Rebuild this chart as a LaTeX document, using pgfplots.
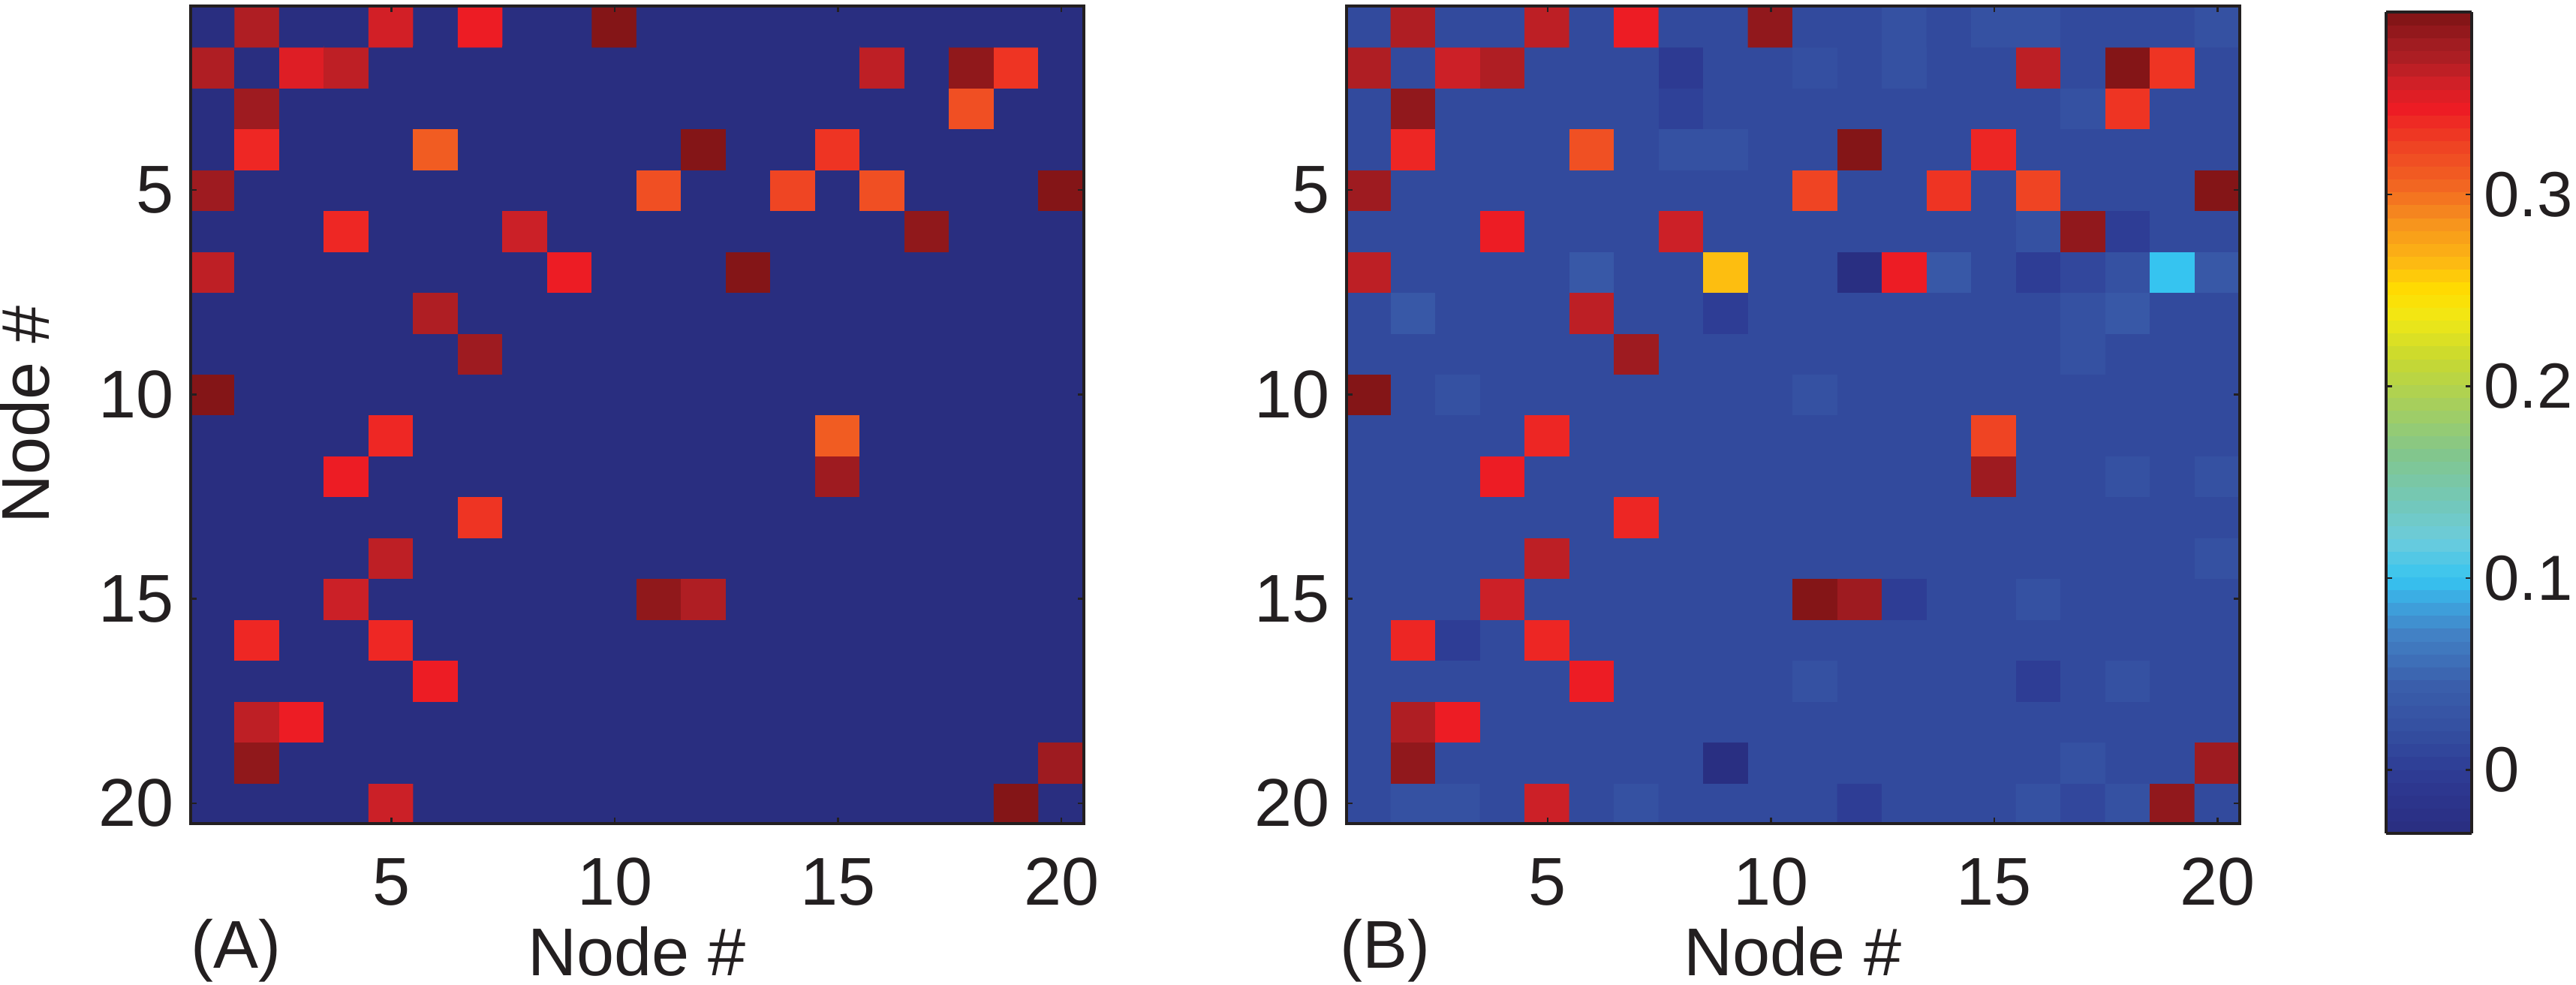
\documentclass[border=0pt]{standalone}
\usepackage{fontspec}
\setmainfont{Liberation Sans}
\usepackage{pgfplots}
\pgfplotsset{compat=1.18}
\definecolor{axc}{RGB}{35,31,32}
\newcommand\fnt{\fontsize{18}{21.6}\selectfont}
\newcommand\cfnt{\fontsize{17}{20.4}\selectfont}
\pgfplotsset{
  colormap={refjet}{rgb255(0pt)=(41,46,128) rgb255(18pt)=(44,52,140) rgb255(33pt)=(46,61,149) rgb255(53pt)=(52,78,160) rgb255(78pt)=(58,95,172) rgb255(103pt)=(66,128,196) rgb255(118pt)=(62,160,220) rgb255(133pt)=(54,196,240) rgb255(153pt)=(108,204,220) rgb255(173pt)=(115,200,185) rgb255(198pt)=(130,198,140) rgb255(223pt)=(166,207,94) rgb255(248pt)=(200,217,48) rgb255(268pt)=(240,232,22) rgb255(283pt)=(255,221,0) rgb255(298pt)=(253,185,19) rgb255(318pt)=(247,148,29) rgb255(338pt)=(242,101,34) rgb255(358pt)=(239,68,35) rgb255(378pt)=(237,28,36) rgb255(393pt)=(204,32,39) rgb255(403pt)=(175,30,35) rgb255(413pt)=(158,27,32) rgb255(428pt)=(125,19,21)},
  /pgf/number format/assume math mode=true,
  tick label style={font=\fnt, text=axc},
  mat/.style={
    scale only axis, width=238pt, height=217.8pt, anchor=south west,
    xmin=0.5, xmax=20.5, ymin=0.5, ymax=20.5, enlargelimits=false,
    clip=false,
    xtick={5,10,15,20}, ytick={1,6,11,16}, yticklabels={20,15,10,5},
    tick align=inside, major tick length=1.6pt,
    xtick pos=both, ytick pos=both, xticklabel pos=lower, yticklabel pos=left,
    every tick/.style={axc, line width=0.5pt},
    axis line style={axc, line width=0.9pt},
    xticklabel style={anchor=base, yshift=-21.8pt},
    yticklabel style={inner sep=0pt, xshift=-4.3pt},
    xlabel={Node \#},
    every axis x label/.style={at={(axis description cs:0.5,-0.186)}, anchor=base, font=\fnt, text=axc},
    colormap name=refjet,
    axis on top,
  }
}
\begin{document}
\begin{tikzpicture}
\useasboundingbox (0,0) rectangle (686.4pt,262.4pt);
\begin{axis}[mat, at={(50.8pt,43pt)}, point meta min=0, point meta max=0.395,
  ylabel={Node \#},
  every axis y label/.style={at={(axis description cs:-0.1588,0.5)}, rotate=90, anchor=base, font=\fnt, text=axc}]
\addplot[matrix plot*, mesh/cols=20, point meta=explicit] coordinates {
(1,1)[0](2,1)[0](3,1)[0](4,1)[0](5,1)[0.363](6,1)[0](7,1)[0](8,1)[0](9,1)[0](10,1)[0](11,1)[0](12,1)[0](13,1)[0](14,1)[0](15,1)[0](16,1)[0](17,1)[0](18,1)[0](19,1)[0.392](20,1)[0]
(1,2)[0](2,2)[0.387](3,2)[0](4,2)[0](5,2)[0](6,2)[0](7,2)[0](8,2)[0](9,2)[0](10,2)[0](11,2)[0](12,2)[0](13,2)[0](14,2)[0](15,2)[0](16,2)[0](17,2)[0](18,2)[0](19,2)[0](20,2)[0.381]
(1,3)[0](2,3)[0.367](3,3)[0.349](4,3)[0](5,3)[0](6,3)[0](7,3)[0](8,3)[0](9,3)[0](10,3)[0](11,3)[0](12,3)[0](13,3)[0](14,3)[0](15,3)[0](16,3)[0](17,3)[0](18,3)[0](19,3)[0](20,3)[0]
(1,4)[0](2,4)[0](3,4)[0](4,4)[0](5,4)[0](6,4)[0.349](7,4)[0](8,4)[0](9,4)[0](10,4)[0](11,4)[0](12,4)[0](13,4)[0](14,4)[0](15,4)[0](16,4)[0](17,4)[0](18,4)[0](19,4)[0](20,4)[0]
(1,5)[0](2,5)[0.344](3,5)[0](4,5)[0](5,5)[0.344](6,5)[0](7,5)[0](8,5)[0](9,5)[0](10,5)[0](11,5)[0](12,5)[0](13,5)[0](14,5)[0](15,5)[0](16,5)[0](17,5)[0](18,5)[0](19,5)[0](20,5)[0]
(1,6)[0](2,6)[0](3,6)[0](4,6)[0.363](5,6)[0](6,6)[0](7,6)[0](8,6)[0](9,6)[0](10,6)[0](11,6)[0.387](12,6)[0.372](13,6)[0](14,6)[0](15,6)[0](16,6)[0](17,6)[0](18,6)[0](19,6)[0](20,6)[0]
(1,7)[0](2,7)[0](3,7)[0](4,7)[0](5,7)[0.367](6,7)[0](7,7)[0](8,7)[0](9,7)[0](10,7)[0](11,7)[0](12,7)[0](13,7)[0](14,7)[0](15,7)[0](16,7)[0](17,7)[0](18,7)[0](19,7)[0](20,7)[0]
(1,8)[0](2,8)[0](3,8)[0](4,8)[0](5,8)[0](6,8)[0](7,8)[0.338](8,8)[0](9,8)[0](10,8)[0](11,8)[0](12,8)[0](13,8)[0](14,8)[0](15,8)[0](16,8)[0](17,8)[0](18,8)[0](19,8)[0](20,8)[0]
(1,9)[0](2,9)[0](3,9)[0](4,9)[0.349](5,9)[0](6,9)[0](7,9)[0](8,9)[0](9,9)[0](10,9)[0](11,9)[0](12,9)[0](13,9)[0](14,9)[0](15,9)[0.381](16,9)[0](17,9)[0](18,9)[0](19,9)[0](20,9)[0]
(1,10)[0](2,10)[0](3,10)[0](4,10)[0](5,10)[0.344](6,10)[0](7,10)[0](8,10)[0](9,10)[0](10,10)[0](11,10)[0](12,10)[0](13,10)[0](14,10)[0](15,10)[0.317](16,10)[0](17,10)[0](18,10)[0](19,10)[0](20,10)[0]
(1,11)[0.392](2,11)[0](3,11)[0](4,11)[0](5,11)[0](6,11)[0](7,11)[0](8,11)[0](9,11)[0](10,11)[0](11,11)[0](12,11)[0](13,11)[0](14,11)[0](15,11)[0](16,11)[0](17,11)[0](18,11)[0](19,11)[0](20,11)[0]
(1,12)[0](2,12)[0](3,12)[0](4,12)[0](5,12)[0](6,12)[0](7,12)[0.381](8,12)[0](9,12)[0](10,12)[0](11,12)[0](12,12)[0](13,12)[0](14,12)[0](15,12)[0](16,12)[0](17,12)[0](18,12)[0](19,12)[0](20,12)[0]
(1,13)[0](2,13)[0](3,13)[0](4,13)[0](5,13)[0](6,13)[0.372](7,13)[0](8,13)[0](9,13)[0](10,13)[0](11,13)[0](12,13)[0](13,13)[0](14,13)[0](15,13)[0](16,13)[0](17,13)[0](18,13)[0](19,13)[0](20,13)[0]
(1,14)[0.367](2,14)[0](3,14)[0](4,14)[0](5,14)[0](6,14)[0](7,14)[0](8,14)[0](9,14)[0.349](10,14)[0](11,14)[0](12,14)[0](13,14)[0.392](14,14)[0](15,14)[0](16,14)[0](17,14)[0](18,14)[0](19,14)[0](20,14)[0]
(1,15)[0](2,15)[0](3,15)[0](4,15)[0.344](5,15)[0](6,15)[0](7,15)[0](8,15)[0.363](9,15)[0](10,15)[0](11,15)[0](12,15)[0](13,15)[0](14,15)[0](15,15)[0](16,15)[0](17,15)[0.387](18,15)[0](19,15)[0](20,15)[0]
(1,16)[0.381](2,16)[0](3,16)[0](4,16)[0](5,16)[0](6,16)[0](7,16)[0](8,16)[0](9,16)[0](10,16)[0](11,16)[0.324](12,16)[0](13,16)[0](14,16)[0.330](15,16)[0](16,16)[0.324](17,16)[0](18,16)[0](19,16)[0](20,16)[0.392]
(1,17)[0](2,17)[0.344](3,17)[0](4,17)[0](5,17)[0](6,17)[0.317](7,17)[0](8,17)[0](9,17)[0](10,17)[0](11,17)[0](12,17)[0.392](13,17)[0](14,17)[0](15,17)[0.338](16,17)[0](17,17)[0](18,17)[0](19,17)[0](20,17)[0]
(1,18)[0](2,18)[0.381](3,18)[0](4,18)[0](5,18)[0](6,18)[0](7,18)[0](8,18)[0](9,18)[0](10,18)[0](11,18)[0](12,18)[0](13,18)[0](14,18)[0](15,18)[0](16,18)[0](17,18)[0](18,18)[0.324](19,18)[0](20,18)[0]
(1,19)[0.372](2,19)[0](3,19)[0.355](4,19)[0.367](5,19)[0](6,19)[0](7,19)[0](8,19)[0](9,19)[0](10,19)[0](11,19)[0](12,19)[0](13,19)[0](14,19)[0](15,19)[0](16,19)[0.367](17,19)[0](18,19)[0.387](19,19)[0.338](20,19)[0]
(1,20)[0](2,20)[0.372](3,20)[0](4,20)[0](5,20)[0.360](6,20)[0](7,20)[0.349](8,20)[0](9,20)[0](10,20)[0.392](11,20)[0](12,20)[0](13,20)[0](14,20)[0](15,20)[0](16,20)[0](17,20)[0](18,20)[0](19,20)[0](20,20)[0]
};
\node[anchor=base west, inner sep=0pt, font=\fnt, text=axc] at (axis description cs:0,-0.1772) {(A)};
\end{axis}
\begin{axis}[mat, at={(358.8pt,43pt)}, point meta min=-0.033, point meta max=0.395,
  colorbar sampled,
  colorbar style={
    at={(parent axis.south east)}, anchor=south west, xshift=30.5pt, yshift=-2.6pt,
    scale only axis, width=22.8pt, height=218.8pt, samples=65,
    ytick={0,0.1,0.2,0.3}, scaled y ticks=false,
    yticklabel style={inner sep=0pt, xshift=3pt, font=\cfnt, /pgf/number format/fixed},
    ytick pos=both, yticklabel pos=right, xtick=\empty,
    tick align=inside, major tick length=1.6pt,
    every tick/.style={axc, line width=0.5pt},
    axis line style={axc, line width=0.8pt},
  }]
\addplot[matrix plot*, mesh/cols=20, point meta=explicit] coordinates {
(1,1)[0.015](2,1)[0.025](3,1)[0.025](4,1)[0.015](5,1)[0.36](6,1)[0.015](7,1)[0.025](8,1)[0.015](9,1)[0.015](10,1)[0.015](11,1)[0.015](12,1)[0](13,1)[0.015](14,1)[0.015](15,1)[0.015](16,1)[0.025](17,1)[0.012](18,1)[0.025](19,1)[0.386](20,1)[0.015]
(1,2)[0.015](2,2)[0.386](3,2)[0.015](4,2)[0.015](5,2)[0.015](6,2)[0.015](7,2)[0.015](8,2)[0.015](9,2)[-0.03](10,2)[0.015](11,2)[0.015](12,2)[0.015](13,2)[0.015](14,2)[0.015](15,2)[0.015](16,2)[0.015](17,2)[0.025](18,2)[0.015](19,2)[0.015](20,2)[0.38]
(1,3)[0.015](2,3)[0.37](3,3)[0.345](4,3)[0.015](5,3)[0.015](6,3)[0.015](7,3)[0.015](8,3)[0.015](9,3)[0.015](10,3)[0.015](11,3)[0.015](12,3)[0.015](13,3)[0.015](14,3)[0.015](15,3)[0.015](16,3)[0.015](17,3)[0.015](18,3)[0.015](19,3)[0.015](20,3)[0.015]
(1,4)[0.015](2,4)[0.015](3,4)[0.015](4,4)[0.015](5,4)[0.015](6,4)[0.345](7,4)[0.015](8,4)[0.015](9,4)[0.015](10,4)[0.015](11,4)[0.025](12,4)[0.015](13,4)[0.015](14,4)[0.015](15,4)[0.015](16,4)[0](17,4)[0.015](18,4)[0.025](19,4)[0.015](20,4)[0.015]
(1,5)[0.015](2,5)[0.34](3,5)[0](4,5)[0.015](5,5)[0.34](6,5)[0.015](7,5)[0.015](8,5)[0.015](9,5)[0.015](10,5)[0.015](11,5)[0.015](12,5)[0.015](13,5)[0.015](14,5)[0.015](15,5)[0.015](16,5)[0.015](17,5)[0.015](18,5)[0.015](19,5)[0.015](20,5)[0.015]
(1,6)[0.015](2,6)[0.015](3,6)[0.015](4,6)[0.36](5,6)[0.015](6,6)[0.015](7,6)[0.015](8,6)[0.015](9,6)[0.015](10,6)[0.015](11,6)[0.392](12,6)[0.38](13,6)[0](14,6)[0.015](15,6)[0.015](16,6)[0.025](17,6)[0.015](18,6)[0.015](19,6)[0.015](20,6)[0.015]
(1,7)[0.015](2,7)[0.015](3,7)[0.015](4,7)[0.015](5,7)[0.365](6,7)[0.015](7,7)[0.015](8,7)[0.015](9,7)[0.015](10,7)[0.015](11,7)[0.015](12,7)[0.015](13,7)[0.015](14,7)[0.015](15,7)[0.015](16,7)[0.015](17,7)[0.015](18,7)[0.015](19,7)[0.015](20,7)[0.025]
(1,8)[0.015](2,8)[0.015](3,8)[0.015](4,8)[0.015](5,8)[0.015](6,8)[0.015](7,8)[0.34](8,8)[0.015](9,8)[0.015](10,8)[0.015](11,8)[0.015](12,8)[0.015](13,8)[0.015](14,8)[0.015](15,8)[0.015](16,8)[0.015](17,8)[0.015](18,8)[0.015](19,8)[0.015](20,8)[0.015]
(1,9)[0.015](2,9)[0.015](3,9)[0.015](4,9)[0.345](5,9)[0.015](6,9)[0.015](7,9)[0.015](8,9)[0.015](9,9)[0.015](10,9)[0.015](11,9)[0.015](12,9)[0.015](13,9)[0.015](14,9)[0.015](15,9)[0.38](16,9)[0.015](17,9)[0.015](18,9)[0.025](19,9)[0.015](20,9)[0.025]
(1,10)[0.015](2,10)[0.015](3,10)[0.015](4,10)[0.015](5,10)[0.34](6,10)[0.015](7,10)[0.015](8,10)[0.015](9,10)[0.015](10,10)[0.015](11,10)[0.015](12,10)[0.015](13,10)[0.015](14,10)[0.015](15,10)[0.325](16,10)[0.015](17,10)[0.015](18,10)[0.015](19,10)[0.015](20,10)[0.015]
(1,11)[0.392](2,11)[0.015](3,11)[0.025](4,11)[0.015](5,11)[0.015](6,11)[0.015](7,11)[0.015](8,11)[0.015](9,11)[0.015](10,11)[0.015](11,11)[0.025](12,11)[0.015](13,11)[0.015](14,11)[0.015](15,11)[0.015](16,11)[0.015](17,11)[0.015](18,11)[0.015](19,11)[0.015](20,11)[0.015]
(1,12)[0.015](2,12)[0.015](3,12)[0.015](4,12)[0.015](5,12)[0.015](6,12)[0.015](7,12)[0.38](8,12)[0.015](9,12)[0.015](10,12)[0.015](11,12)[0.015](12,12)[0.015](13,12)[0.015](14,12)[0.015](15,12)[0.015](16,12)[0.015](17,12)[0.025](18,12)[0.015](19,12)[0.015](20,12)[0.015]
(1,13)[0.015](2,13)[0.035](3,13)[0.015](4,13)[0.015](5,13)[0.015](6,13)[0.365](7,13)[0.015](8,13)[0.015](9,13)[0](10,13)[0.015](11,13)[0.015](12,13)[0.015](13,13)[0.015](14,13)[0.015](15,13)[0.015](16,13)[0.015](17,13)[0.025](18,13)[0.035](19,13)[0.015](20,13)[0.015]
(1,14)[0.365](2,14)[0.015](3,14)[0.015](4,14)[0.015](5,14)[0.015](6,14)[0.035](7,14)[0.015](8,14)[0.015](9,14)[0.263](10,14)[0.015](11,14)[0.015](12,14)[-0.03](13,14)[0.345](14,14)[0.035](15,14)[0.015](16,14)[0](17,14)[0.012](18,14)[0.025](19,14)[0.1](20,14)[0.035]
(1,15)[0.015](2,15)[0.015](3,15)[0.015](4,15)[0.345](5,15)[0.015](6,15)[0.015](7,15)[0.015](8,15)[0.36](9,15)[0.015](10,15)[0.015](11,15)[0.015](12,15)[0.015](13,15)[0.015](14,15)[0.015](15,15)[0.015](16,15)[0.025](17,15)[0.386](18,15)[0](19,15)[0.015](20,15)[0.015]
(1,16)[0.38](2,16)[0.015](3,16)[0.015](4,16)[0.015](5,16)[0.015](6,16)[0.015](7,16)[0.015](8,16)[0.015](9,16)[0.015](10,16)[0.015](11,16)[0.325](12,16)[0.015](13,16)[0.015](14,16)[0.333](15,16)[0.015](16,16)[0.325](17,16)[0.015](18,16)[0.015](19,16)[0.015](20,16)[0.392]
(1,17)[0.015](2,17)[0.34](3,17)[0.015](4,17)[0.015](5,17)[0.015](6,17)[0.318](7,17)[0.015](8,17)[0.025](9,17)[0.025](10,17)[0.015](11,17)[0.015](12,17)[0.392](13,17)[0.015](14,17)[0.015](15,17)[0.34](16,17)[0.015](17,17)[0.015](18,17)[0.015](19,17)[0.015](20,17)[0.015]
(1,18)[0.015](2,18)[0.386](3,18)[0.015](4,18)[0.015](5,18)[0.015](6,18)[0.015](7,18)[0.015](8,18)[0.005](9,18)[0.015](10,18)[0.015](11,18)[0.015](12,18)[0.015](13,18)[0.015](14,18)[0.015](15,18)[0.015](16,18)[0.015](17,18)[0.025](18,18)[0.333](19,18)[0.015](20,18)[0.015]
(1,19)[0.37](2,19)[0.015](3,19)[0.36](4,19)[0.37](5,19)[0.015](6,19)[0.015](7,19)[0.015](8,19)[-0.005](9,19)[0.015](10,19)[0.015](11,19)[0.022](12,19)[0.015](13,19)[0.025](14,19)[0.015](15,19)[0.015](16,19)[0.365](17,19)[0.015](18,19)[0.392](19,19)[0.333](20,19)[0.015]
(1,20)[0.015](2,20)[0.37](3,20)[0.015](4,20)[0.015](5,20)[0.365](6,20)[0.015](7,20)[0.345](8,20)[0.015](9,20)[0.015](10,20)[0.386](11,20)[0.015](12,20)[0.015](13,20)[0.025](14,20)[0.015](15,20)[0.025](16,20)[0.025](17,20)[0.015](18,20)[0.015](19,20)[0.015](20,20)[0.025]
};
\node[anchor=base west, inner sep=0pt, font=\fnt, text=axc] at (axis description cs:-0.008,-0.1772) {(B)};
\end{axis}
\end{tikzpicture}
\end{document}
